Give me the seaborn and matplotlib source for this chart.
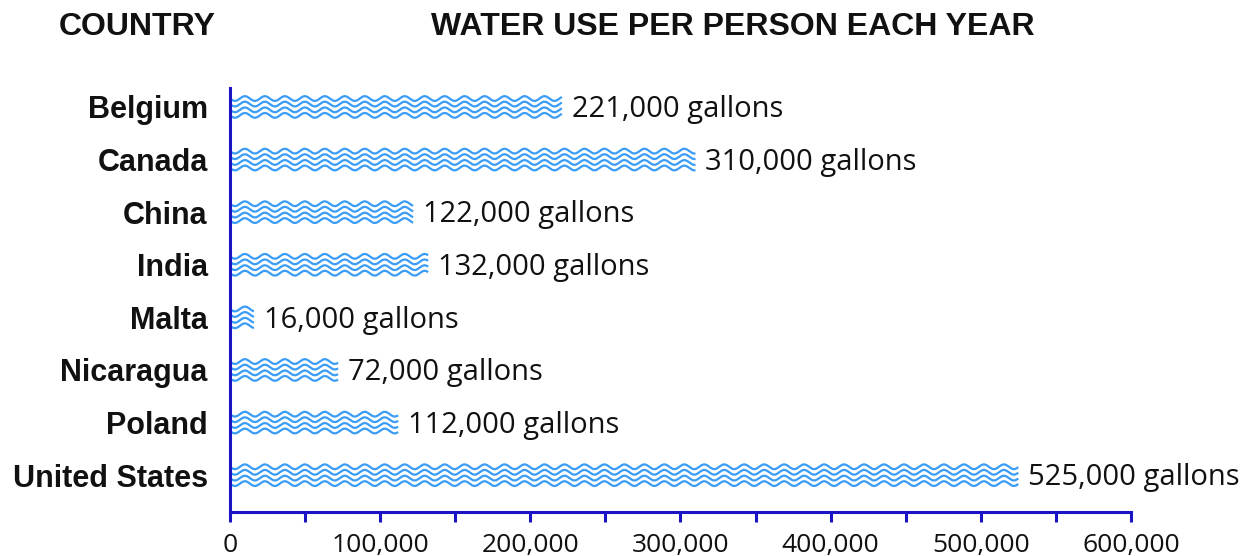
import numpy as np
import pandas as pd
import matplotlib.pyplot as plt
import seaborn as sns
from matplotlib.ticker import MultipleLocator, FuncFormatter

sns.set_style('white')

# Data
countries = ['Belgium', 'Canada', 'China', 'India', 'Malta', 'Nicaragua', 'Poland', 'United States']
gallons = [221000, 310000, 122000, 132000, 16000, 72000, 112000, 525000]

data = pd.DataFrame({'country': countries, 'gallons': gallons})

axis_color = '#1a14c4'
wave_color = '#3a9cf5'

fig = plt.figure(figsize=(12.45, 5.56), dpi=100)
ax = fig.add_axes([0.1847, 0.0791, 0.7237, 0.7626])

# invisible bars, waves are drawn inside them below
sns.barplot(x='gallons', y='country', data=data, orient='h', width=0.42,
            facecolor='none', edgecolor='none', ax=ax)

ax.set_xlim(0, 600000)
ax.set_ylim(7.7, -0.36)

# wavy fill for each bar
period = 13300
amp = 0.045
offsets = [-0.16, -0.055, 0.055, 0.16]
for bar in ax.patches:
    x0 = bar.get_x()
    x1 = x0 + bar.get_width()
    yc = bar.get_y() + bar.get_height() / 2
    xs = np.linspace(x0, x1, max(int((x1 - x0) / 400), 20))
    for off in offsets:
        ys = yc + off + amp * np.sin(2 * np.pi * xs / period)
        ax.plot(xs, ys, color=wave_color, lw=1.6, solid_capstyle='butt')

# value labels
for bar, v in zip(ax.patches, gallons):
    yc = bar.get_y() + bar.get_height() / 2
    ax.annotate(f'{v:,} gallons', (bar.get_x() + bar.get_width(), yc),
                xytext=(7, -2), textcoords='offset points', va='center', ha='left',
                fontsize=21, family='Open Sans', color='#111111')

# axes styling
sns.despine(ax=ax)
for s in ['left', 'bottom']:
    ax.spines[s].set_color(axis_color)
    ax.spines[s].set_linewidth(2.2)

ax.xaxis.set_major_locator(MultipleLocator(100000))
ax.xaxis.set_minor_locator(MultipleLocator(50000))
ax.xaxis.set_major_formatter(FuncFormatter(lambda v, p: f'{int(v):,}'))
ax.tick_params(axis='x', which='both', direction='out', length=7, width=2.2,
               color=axis_color, bottom=True, pad=8)
ax.tick_params(axis='x', which='major', labelsize=19, labelcolor='#111111')
ax.tick_params(axis='y', length=0, pad=16, labelcolor='#111111')
for lbl in ax.get_xticklabels():
    lbl.set_family('Open Sans')
for lbl in ax.get_yticklabels():
    lbl.set_family('Liberation Sans')
    lbl.set_fontweight('bold')
    lbl.set_fontsize(22)

ax.set_xlabel('')
ax.set_ylabel('')

fig.text(137 / 1245, 1 - 27 / 556, 'COUNTRY', ha='center', va='center',
         fontsize=23, fontweight='bold', family='Liberation Sans', color='#111111')
fig.text(733 / 1245, 1 - 27 / 556, 'WATER USE PER PERSON EACH YEAR', ha='center', va='center',
         fontsize=23, fontweight='bold', family='Liberation Sans', color='#111111')

plt.savefig('out.png', dpi=100)
plt.close()
